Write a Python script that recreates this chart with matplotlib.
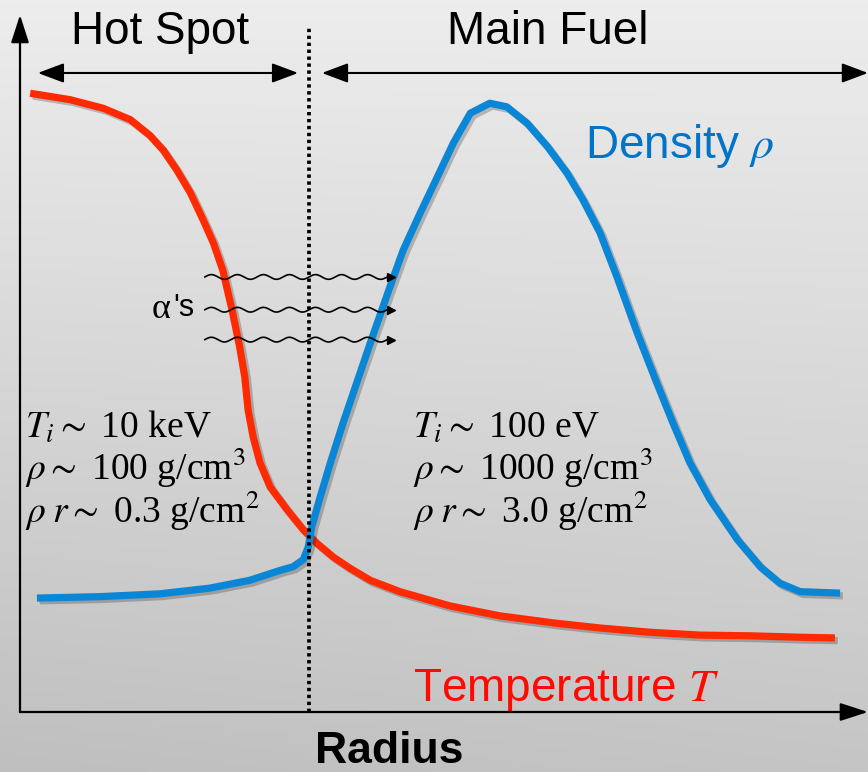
import numpy as np
import matplotlib.pyplot as plt
import matplotlib.patheffects as pe
from matplotlib.patches import FancyArrowPatch

plt.rcParams['mathtext.fontset'] = 'stix'

# Yarıçap (keyfi birim, 0-10) ve profiller (keyfi birim)
temp_r = [0.12, 0.59, 0.98, 1.30, 1.53, 1.69, 1.85, 2.01, 2.16, 2.28, 2.39,
          2.50, 2.59, 2.65, 2.69, 2.75, 2.83, 2.95, 3.15, 3.34, 3.50, 3.69,
          3.89, 4.13, 4.48, 5.07, 5.66, 6.30, 6.84, 7.43, 8.02, 8.61, 9.20,
          9.61]
temp_v = [8.69, 8.60, 8.48, 8.32, 8.10, 7.89, 7.61, 7.29, 6.91, 6.59, 6.21,
          5.65, 5.13, 4.71, 4.24, 3.86, 3.50, 3.16, 2.84, 2.56, 2.37, 2.18,
          2.02, 1.85, 1.69, 1.49, 1.35, 1.25, 1.18, 1.12, 1.08, 1.07, 1.05,
          1.04]

dens_r = [0.20, 0.94, 1.65, 2.24, 2.71, 3.07, 3.22, 3.34, 3.40, 3.44, 3.54,
          3.66, 3.81, 3.97, 4.13, 4.28, 4.38, 4.52, 4.72, 4.92, 5.11, 5.31,
          5.54, 5.74, 5.98, 6.22, 6.45, 6.64, 6.84, 7.04, 7.28, 7.51, 7.70,
          7.90, 8.14, 8.46, 8.73, 8.96, 9.20, 9.67]
dens_v = [1.60, 1.62, 1.66, 1.74, 1.85, 1.99, 2.04, 2.14, 2.32, 2.60, 3.02,
          3.50, 4.06, 4.62, 5.18, 5.69, 6.03, 6.49, 7.01, 7.51, 7.99, 8.41,
          8.55, 8.50, 8.27, 7.94, 7.57, 7.19, 6.73, 6.11, 5.32, 4.62, 4.06,
          3.50, 2.98, 2.42, 2.04, 1.81, 1.69, 1.67]

# Sıcak nokta sınırı ve alfa parçacık hatları
boundary = 3.41
alpha_rows = [6.11, 5.65, 5.23]
alpha_start, alpha_end = 2.18, 4.42

hot_lines = [r'$T_i \sim$ 10 keV', r'$\rho \sim$ 100 g/cm$^3$',
             r'$\rho\; r \sim$ 0.3 g/cm$^2$']
fuel_lines = [r'$T_i \sim$ 100 eV', r'$\rho \sim$ 1000 g/cm$^3$',
              r'$\rho\; r \sim$ 3.0 g/cm$^2$']
line_v = [3.85, 3.26, 2.65]

red = '#ff2a00'
blue = '#0a86d6'

fig = plt.figure(figsize=(8.68, 7.72), dpi=100)

# Arka plan gradyanı
bg = fig.add_axes([0, 0, 1, 1], zorder=0)
yy, xx = np.mgrid[0:1:200j, 0:1:200j]
shade = 237 - 40 * yy - 6 * yy * (1 - xx)
bg.imshow(np.dstack([shade, shade, shade]) / 255.0, aspect='auto',
          extent=[0, 1, 0, 1], origin='upper')
bg.axis('off')

ax = fig.add_axes([0, 0, 1, 1], zorder=1)
ax.patch.set_alpha(0)
ax.set_xlim(-20 / 84.8, 10.0)
ax.set_ylim(-60 / 71.2, 10.0)
ax.axis('off')

shadow = [pe.SimpleLineShadow(offset=(2, -2), shadow_color='k', alpha=0.22),
          pe.Normal()]
ax.plot(temp_r, temp_v, color=red, lw=5.2, solid_capstyle='butt',
        solid_joinstyle='round', path_effects=shadow, zorder=3)
ax.plot(dens_r, dens_v, color=blue, lw=5.2, solid_capstyle='butt',
        solid_joinstyle='round', path_effects=shadow, zorder=3)

# Eksen okları
axis_kw = dict(arrowstyle='-|>,head_length=1.7,head_width=0.55',
               mutation_scale=10, lw=1.6, color='k', shrinkA=0, shrinkB=0,
               clip_on=False, zorder=4)
ax.add_patch(FancyArrowPatch((0, 0), (0, 9.79), **axis_kw))
ax.add_patch(FancyArrowPatch((0, 0), (10.0, 0), **axis_kw))

# Sınır çizgisi
ax.plot([boundary, boundary], [0, 9.61], color='k', lw=2.7,
        linestyle=(0, (0.9, 0.95)), dash_capstyle='butt', zorder=5)

# Bölge okları
reg_kw = dict(arrowstyle='<|-|>,head_length=1.6,head_width=0.6',
              mutation_scale=10, lw=1.5, color='k', shrinkA=0, shrinkB=0,
              clip_on=False, zorder=4)
ax.add_patch(FancyArrowPatch((0.21, 8.975), (3.28, 8.975), **reg_kw))
ax.add_patch(FancyArrowPatch((3.56, 8.975), (10.0, 8.975), **reg_kw))

sans = ['Liberation Sans', 'DejaVu Sans']
ax.text(1.65, 9.55, 'Hot Spot', fontsize=33, family=sans, ha='center',
        va='center')
ax.text(6.22, 9.55, 'Main Fuel', fontsize=33, family=sans, ha='center',
        va='center')
ax.text(6.66, 7.95, r'Density $\rho$', fontsize=33, family=sans,
        color='#0074c8', ha='left', va='center')
ax.text(4.63, 0.31, r'Temperature $T$', fontsize=33, family=sans,
        color='#ff0a00', ha='left', va='center')
ax.text(4.36, -0.56, 'Radius', fontsize=32, family=sans, weight='bold',
        ha='center', va='center')

# Alfa parçacıkları (dalgalı oklar)
wx = np.linspace(alpha_start, alpha_end, 300)
for row in alpha_rows:
    wy = row + 0.033 * np.sin((wx - alpha_start) / 0.307 * 2 * np.pi)
    ax.plot(wx[:-8], wy[:-8], color='k', lw=1.2, zorder=6)
    ax.plot([alpha_end - 0.04], [row], marker='>', color='k', ms=6, zorder=6)
ax.text(1.55, 5.65, 'α', fontsize=26, family=['Liberation Serif'],
        ha='left', va='center')
ax.text(1.81, 5.67, "'s", fontsize=22, family=sans, ha='left', va='center')

serif = ['Liberation Serif', 'DejaVu Serif']
for txt, v in zip(hot_lines, line_v):
    ax.text(0.06, v, txt, fontsize=27, family=serif, ha='left',
            va='baseline')
for txt, v in zip(fuel_lines, line_v):
    ax.text(4.63, v, txt, fontsize=27, family=serif, ha='left',
            va='baseline')

fig.savefig('out.png', dpi=100)
